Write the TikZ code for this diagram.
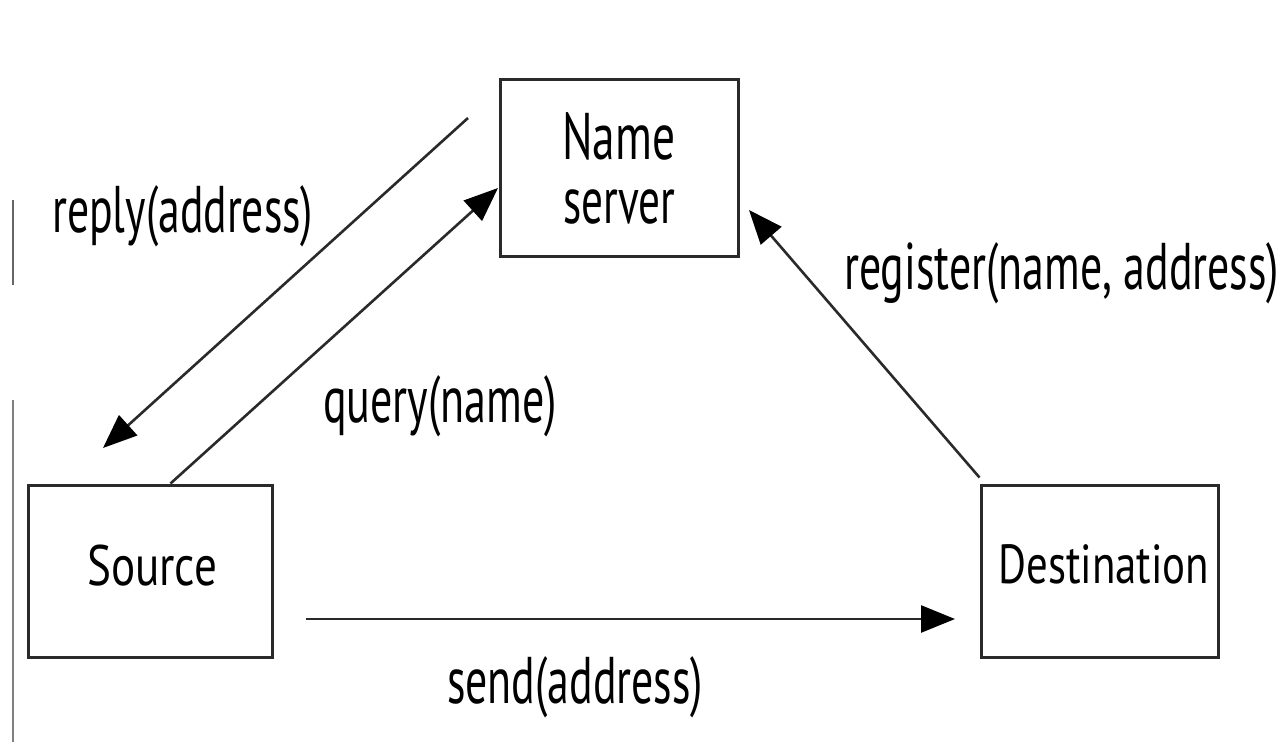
\documentclass[tikz,border=0pt]{standalone}
\usepackage{fontspec}
\setmainfont{PT Sans}
\usetikzlibrary{arrows.meta,calc}
\newcommand{\fitto}[2]{\resizebox{#1}{\height}{#2}}
\definecolor{ink}{HTML}{2A2A2A}
\begin{document}
\begin{tikzpicture}[x=1pt,y=-1pt,
  box/.style={draw=ink, line width=3pt, inner sep=0pt},
  arr/.style={draw=ink, line width=2.6pt, -{Triangle[length=34pt,width=27pt,color=black]}},
  lbl/.style={inner sep=0pt, anchor=base west, font=\fontsize{66}{70}\selectfont},
  boxtxt/.style={inner sep=0pt, anchor=base west}]
\useasboundingbox (0,0) rectangle (1280,746);
\fill[white] (0,0) rectangle (1280,746);
% scan artifacts at left edge
\draw[black!60, line width=2pt] (13,200) -- (13,285);
\draw[black!50, line width=2pt] (13,400) -- (13,742);
% boxes
\node[box, minimum width=238pt, minimum height=177pt] (ns) at (619,168.5) {};
\node[box, minimum width=244pt, minimum height=172pt] (src) at (150,571) {};
\node[box, minimum width=237pt, minimum height=172pt] (dst) at (1099.5,571) {};
% box texts
\node[boxtxt, font=\fontsize{66}{70}\selectfont] (t1) at (562,160) {\fitto{113pt}{Name}};
\node[boxtxt, font=\fontsize{66}{70}\selectfont] (t2) at (563,223) {\fitto{112pt}{server}};
\node[boxtxt, font=\fontsize{57}{60}\selectfont] (t3) at (87,585) {\fitto{130pt}{Source}};
\node[boxtxt, font=\fontsize{55}{60}\selectfont] (t4) at (998,583) {\fitto{211pt}{Destination}};
% labels
\node[lbl] (l1) at (52,233) {\fitto{261pt}{reply(address)}};
\node[lbl] (l2) at (323,422) {\fitto{234pt}{query(name)}};
\node[lbl] (l3) at (844,289) {\fitto{435pt}{register(name, address)}};
\node[lbl] (l4) at (447,703) {\fitto{256pt}{send(address)}};
% connector end points
\coordinate (rs) at (468,118);
\coordinate (re) at (103,448);
\coordinate (qe) at (498,188);
\coordinate (ge) at (749,210);
\coordinate (ss) at (306,619);
\coordinate (se) at (955,619);
% connectors
\draw[arr] (rs) -- (re);
\draw[arr] ($(src.north west)+(144,0)$) -- (qe);
\draw[arr] ($(dst.north west)+(0,-6)$) -- (ge);
\draw[arr] (ss) -- (se);
\end{tikzpicture}
\end{document}
